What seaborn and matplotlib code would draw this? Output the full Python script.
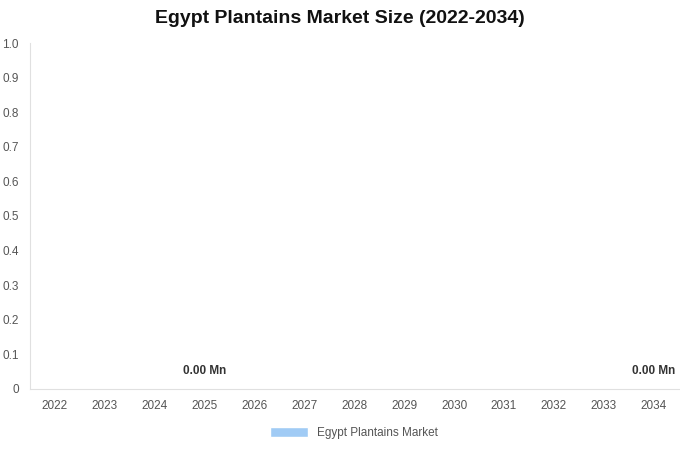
import matplotlib
matplotlib.use("Agg")
import matplotlib.pyplot as plt
import seaborn as sns
import pandas as pd
from matplotlib.patches import Patch

years = [str(y) for y in range(2022, 2035)]
values = [0.0] * 13
labeled_years = ["2025", "2034"]
series_name = "Egypt Plantains Market"
color = "#a0cbf5"

sns.set_style("white")
plt.rcParams['font.family'] = ['Liberation Sans', 'DejaVu Sans']

df = pd.DataFrame({"year": years, "value": values})
fig = plt.figure(figsize=(6.8, 4.5), dpi=100)
ax = fig.add_axes([0.044, 0.136, 0.954, 0.768])
sns.barplot(data=df, x="year", y="value", color=color, ax=ax, width=0.6)

ax.set_ylim(0, 1.0)
ax.set_yticks([i / 10 for i in range(11)])
ax.set_yticklabels(["0"] + [f"{i/10:.1f}" for i in range(1, 11)])
ax.tick_params(axis="both", labelsize=8.5, colors="#555555", length=0)
ax.tick_params(axis="x", pad=8)
ax.tick_params(axis="y", pad=8)
ax.set_xlabel("")
ax.set_ylabel("")
for s in ["top", "right"]:
    ax.spines[s].set_visible(False)
for s in ["left", "bottom"]:
    ax.spines[s].set_color("#e0e0e0")
    ax.spines[s].set_linewidth(0.8)

for i, (y, v) in enumerate(zip(years, values)):
    if y in labeled_years:
        ax.text(i, v + 0.035, f"{v:.2f} Mn", ha="center", va="bottom",
                fontsize=8.5, fontweight="bold", color="#333333")

fig.suptitle("Egypt Plantains Market Size (2022-2034)", y=0.977,
             fontsize=14, fontweight="bold", color="#111111")
ax.legend(handles=[Patch(facecolor=color, label=series_name)],
          loc="upper center", bbox_to_anchor=(0.5, -0.08), frameon=False,
          fontsize=8.5, handlelength=3.2, handleheight=0.9,
          labelcolor="#555555")
fig.savefig("out.png", dpi=100)
